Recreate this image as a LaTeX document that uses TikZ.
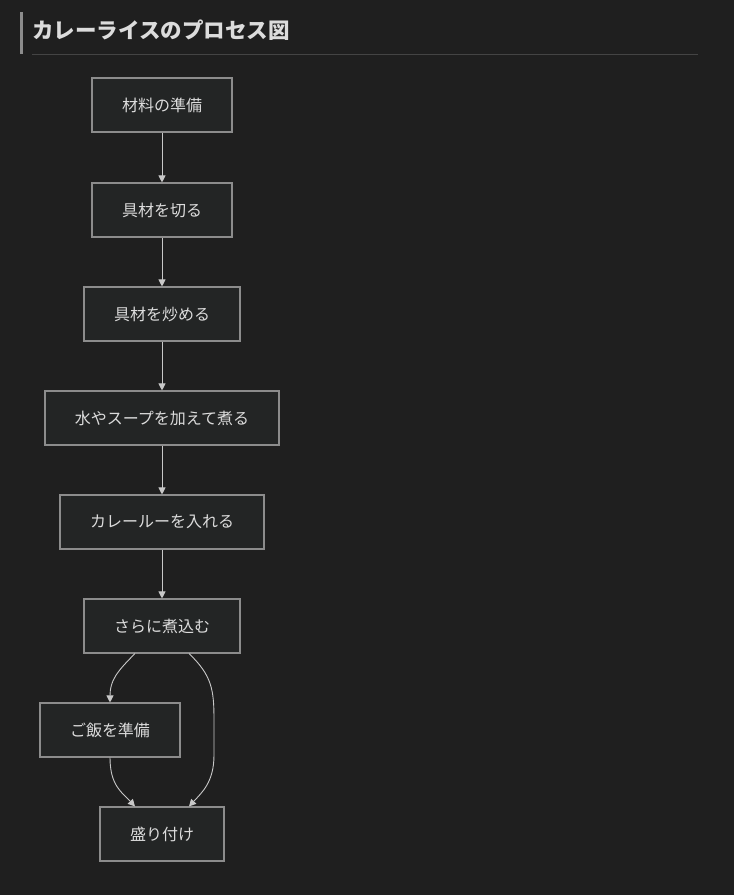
\documentclass[tikz,border=0pt]{standalone}
\usepackage{fontspec}
\setmainfont{Noto Sans CJK JP}
\usetikzlibrary{arrows.meta,calc}
\definecolor{bgcol}{HTML}{1F1F1F}
\definecolor{boxfill}{HTML}{232525}
\definecolor{boxline}{HTML}{8C8C8C}
\definecolor{txtcol}{HTML}{DCDCDC}
\definecolor{edgecol}{HTML}{C8C8C8}
\definecolor{rulecol}{HTML}{444444}
\begin{document}
\begin{tikzpicture}[x=1pt, y=-1pt,
        stepbox/.style={draw=boxline, fill=boxfill, text=txtcol, line width=1.1pt, minimum height=54pt, inner sep=0pt, font=\fontsize{16}{19}\selectfont},
        flow/.style={draw=edgecol, line width=0.9pt, -{Triangle[length=7pt, width=7pt]}}]
                \fill[bgcol] (0,0) rectangle (734,895);
                \useasboundingbox (0,0) rectangle (734,895);

                % title
                \fill[boxline] (20,12) rectangle (22.5,54);
                \node[anchor=west, text=txtcol, inner sep=0pt, font=\bfseries\fontsize{21.5}{24}\selectfont] (T) at (32,30) {カレーライスのプロセス図};
                \draw[rulecol, line width=1pt] (32,54) -- (698,54);

                \node[stepbox, minimum width=140pt] (A) at (162,105) {材料の準備};
                \node[stepbox, minimum width=140pt] (B) at (162,210) {具材を切る};
                \node[stepbox, minimum width=156pt] (C) at (162,314) {具材を炒める};
                \node[stepbox, minimum width=234pt] (D) at (162,418) {水やスープを加えて煮る};
                \node[stepbox, minimum width=204pt] (E) at (162,522) {カレールーを入れる};
                \node[stepbox, minimum width=156pt] (F) at (162,626) {さらに煮込む};
                \node[stepbox, minimum width=140pt] (G) at (110,730) {ご飯を準備};
                \node[stepbox, minimum width=124pt] (H) at (162,834) {盛り付け};

                \draw[flow] (A) -- (B);
                \draw[flow] (B) -- (C);
                \draw[flow] (C) -- (D);
                \draw[flow] (D) -- (E);
                \draw[flow] (E) -- (F);
                \draw[flow] ($(F.south)+(-27,0)$) .. controls ($(F.south)+(-45,18)$) and ($(G.north)+(0,-22)$) .. (G.north);
                \draw[flow] ($(F.south)+(27,0)$) .. controls ($(F.south)+(50,22)$) and (214,690) .. (214,720)
                        -- (214,755) .. controls (214,782) and ($(H.north)+(40,-14)$) .. ($(H.north)+(27,0)$);
                \draw[flow] (G.south) .. controls ($(G.south)+(0,28)$) and ($(H.north)+(-40,-14)$) .. ($(H.north)+(-27,0)$);
            \end{tikzpicture}
\end{document}
